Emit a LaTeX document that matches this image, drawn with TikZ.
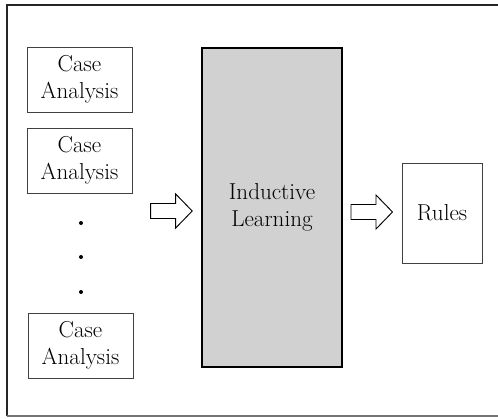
\documentclass[tikz,border=0pt]{standalone}
\begin{document}
\begin{tikzpicture}[x=0.75pt,y=-0.75pt,
  every node/.style={font=\fontsize{17.3}{20}\selectfont, align=center, inner sep=0pt},
  casebox/.style={draw=black!75, line width=0.6pt, minimum width=78.75pt, minimum height=48.75pt},
  learnbox/.style={draw=black, line width=1.2pt, fill=black!18, minimum width=105pt, minimum height=239.25pt},
  rulebox/.style={draw=black!75, line width=0.6pt, minimum width=60pt, minimum height=75pt},
  frameline/.style={draw=black!85, line width=1.1pt},
  barrow/.pic={\draw[black, line width=0.7pt, fill=white] (0,-7.5)--(25,-7.5)--(25,-17)--(41.5,0)--(25,17)--(25,7.5)--(0,7.5)--cycle;}
]
\useasboundingbox (0,0) rectangle (498,418);
% outer frame
\draw[frameline] (498,5) -- (7,5) -- (7,416);
\draw[black!55, line width=0.8pt] (7,416) -- (498,416);
% case boxes
\node[casebox] (c1) at (79.5,79.5) {Case\\Analysis};
\node[casebox] (c2) at (79.5,160.5) {Case\\Analysis};
\node[casebox] (c3) at (80.5,345.5) {Case\\Analysis};
% dots
\fill (81,223) circle (2);
\fill (81,257) circle (2);
\fill (81,292) circle (2);
% learning
\node[learnbox] (il) at (272,207.5) {Inductive\\Learning};
\node[rulebox] (r) at (442,213) {Rules};
% arrows
\pic at (150.7,211) {barrow};
\pic at (351,212) {barrow};
\end{tikzpicture}
\end{document}
